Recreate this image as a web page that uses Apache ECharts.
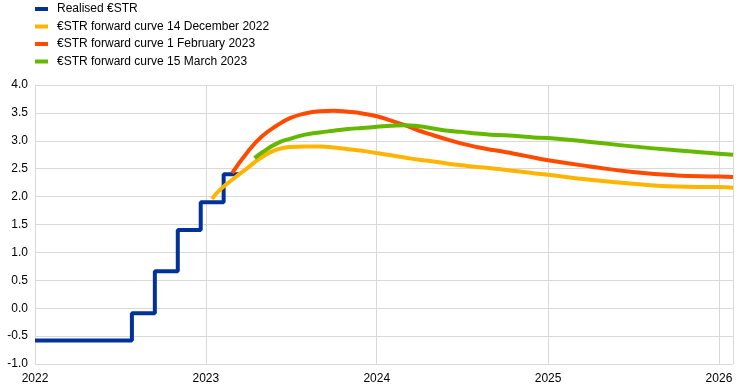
<!DOCTYPE html>
<html>
<head>
<meta charset="utf-8">
<script src="https://cdn.jsdelivr.net/npm/echarts@6/dist/echarts.min.js"></script>
<style>
html,body{margin:0;padding:0;background:#fff;}
#chart{width:744px;height:392px;}
</style>
</head>
<body>
<div id="chart"></div>
<script>
// Realised €STR (step changes)
var realisedDates = ['2022-01-01','2022-07-27','2022-09-14','2022-11-02','2022-12-21','2023-02-08','2023-03-14'];
var realisedValues = [-0.58, -0.09, 0.66, 1.40, 1.90, 2.40, 2.40];

// €STR forward curve 14 December 2022
var decDates = ['2023-01-14','2023-02-01','2023-03-01','2023-04-01','2023-05-01','2023-06-01','2023-07-01','2023-08-01','2023-09-01','2023-10-01','2023-11-01','2023-12-01',
  '2024-01-01','2024-02-01','2024-03-01','2024-04-01','2024-05-01','2024-06-01','2024-07-01','2024-08-01','2024-09-01','2024-10-01','2024-11-01','2024-12-01',
  '2025-01-01','2025-04-01','2025-07-01','2025-10-01','2026-01-01','2026-01-31'];
var decValues = [1.96,2.13,2.32,2.52,2.71,2.84,2.89,2.90,2.90,2.88,2.85,2.82,
  2.78,2.74,2.70,2.66,2.63,2.59,2.56,2.53,2.51,2.48,2.45,2.42,
  2.39,2.30,2.23,2.18,2.17,2.16];

// €STR forward curve 1 February 2023
var febDates = ['2023-02-26','2023-04-01','2023-05-01','2023-06-01','2023-07-01','2023-08-01','2023-09-01','2023-10-01','2023-11-01','2023-12-01',
  '2024-01-01','2024-02-01','2024-03-01','2024-04-01','2024-05-01','2024-06-01','2024-07-01','2024-08-01','2024-09-01','2024-10-01','2024-11-01','2024-12-01',
  '2025-01-01','2025-04-01','2025-07-01','2025-10-01','2026-01-01','2026-01-31'];
var febValues = [2.42,2.81,3.08,3.27,3.41,3.49,3.53,3.54,3.52,3.49,
  3.44,3.36,3.28,3.18,3.10,3.02,2.95,2.89,2.84,2.80,2.75,2.70,
  2.65,2.54,2.44,2.38,2.36,2.35];

// €STR forward curve 15 March 2023
var marDates = ['2023-04-15','2023-05-01','2023-06-01','2023-07-01','2023-08-01','2023-09-01','2023-10-01','2023-11-01','2023-12-01',
  '2024-01-01','2024-02-01','2024-03-01','2024-04-01','2024-05-01','2024-06-01','2024-07-01','2024-08-01','2024-09-01','2024-10-01','2024-11-01','2024-12-01',
  '2025-01-01','2025-04-01','2025-07-01','2025-10-01','2026-01-01','2026-01-31'];
var marValues = [2.69,2.79,2.95,3.04,3.11,3.15,3.18,3.21,3.23,
  3.25,3.27,3.28,3.26,3.22,3.18,3.16,3.13,3.11,3.10,3.08,3.06,
  3.05,2.98,2.90,2.83,2.77,2.75];

var seriesNames = ['Realised €STR','€STR forward curve 14 December 2022','€STR forward curve 1 February 2023','€STR forward curve 15 March 2023'];
var colors = ['#003299','#FFB400','#FF4B00','#65B800'];

function zip(d, v){ return d.map(function(x,i){ return [x, v[i]]; }); }

var font = 'Liberation Sans, Arial, sans-serif';
var chart = echarts.init(document.getElementById('chart'), null, {renderer:'canvas'});
chart.setOption({
  animation: false,
  color: colors,
  textStyle: {fontFamily: font},
  legend: {
    orient: 'vertical',
    left: 30, top: -3,
    itemWidth: 13, itemHeight: 4,
    itemGap: 3.5,
    icon: 'rect',
    textStyle: {fontFamily: font, fontSize: 12, color: '#000', lineHeight: 14, padding:[0,0,0,4]},
    data: seriesNames
  },
  grid: {left: 35, right: 11, top: 85, bottom: 28, containLabel: false},
  xAxis: {
    type: 'time',
    min: '2022-01-01',
    max: '2026-01-31',
    minInterval: 365*24*3600*1000,
    maxInterval: 366*24*3600*1000,
    axisLine: {show: true, lineStyle: {color: '#d9d9d9', width: 1}},
    axisTick: {show: false},
    splitLine: {show: true, lineStyle: {color: '#d9d9d9', width: 1}},
    axisLabel: {formatter: '{yyyy}', fontFamily: font, fontSize: 12, color: '#000', margin: 9, showMaxLabel: false, fontWeight: 'normal'}
  },
  yAxis: {
    type: 'value',
    min: -1, max: 4, interval: 0.5,
    axisLine: {show: true, lineStyle: {color: '#d9d9d9', width: 1}},
    axisTick: {show: false},
    splitLine: {show: true, lineStyle: {color: '#d9d9d9', width: 1}},
    axisLabel: {formatter: function(v){ return v.toFixed(1); }, fontFamily: font, fontSize: 12, color: '#000', margin: 7}
  },
  series: [
    {name: seriesNames[0], type: 'line', step: 'end', showSymbol: false, data: zip(realisedDates, realisedValues), lineStyle: {width: 4, color: colors[0]}},
    {name: seriesNames[1], type: 'line', smooth: true, showSymbol: false, data: zip(decDates, decValues), lineStyle: {width: 4, color: colors[1]}},
    {name: seriesNames[2], type: 'line', smooth: true, showSymbol: false, data: zip(febDates, febValues), lineStyle: {width: 4, color: colors[2]}},
    {name: seriesNames[3], type: 'line', smooth: true, showSymbol: false, data: zip(marDates, marValues), lineStyle: {width: 4, color: colors[3]}}
  ]
});
</script>
</body>
</html>
